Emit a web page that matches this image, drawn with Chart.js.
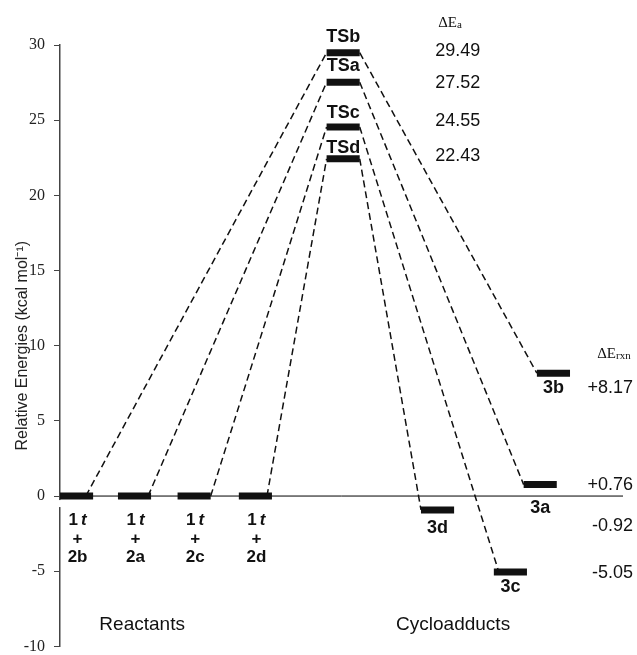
<!DOCTYPE html>
<html>
<head>
<meta charset="utf-8">
<script src="https://cdn.jsdelivr.net/npm/chart.js@4.4.1/dist/chart.umd.min.js"></script>
<style>
    html, body { margin: 0; padding: 0; background: #fff; overflow: hidden; }
    #wrap { width: 637px; height: 655px; overflow: hidden; }
</style>
</head>
<body>
<div id="wrap"><canvas id="energyChart" width="637" height="665"></canvas></div>
<script>
// ========================================
// DATA (kcal/mol)
// ========================================

// paths in the order b, a, c, d
const reactantNames = ['2b', '2a', '2c', '2d'];
const tsNames = ['TSb', 'TSa', 'TSc', 'TSd'];
const tsEnergies = [29.49, 27.52, 24.55, 22.43];
const productNames = ['3b', '3a', '3c', '3d'];
const productEnergies = [8.17, 0.76, -5.05, -0.92];
const reactantEnergy = 0;

// horizontal slots on the diagram (left edge of each level, x units)
const reactantSlots = [0, 1.75, 3.55, 5.4];
const tsSlot = 8.05;
const productSlots = [14.4, 14.0, 13.1, 10.9];
// where each dashed path leaves / reaches a level
const reactantLinks = [0.78, 2.66, 4.55, 6.25];
const productLinks = [14.4, 14.0, 13.25, 10.9];

const yTicks = [-10, -5, 0, 5, 10, 15, 20, 25, 30];

// ========================================
// STYLE
// ========================================
const SANS = '"Liberation Sans", Arial, sans-serif';
const SERIF = '"Liberation Serif", "Times New Roman", serif';
const LEVEL_W = 1;     // width of a level bar in x units
const X_MAX = 17;

// Build a two point line dataset
function segment(x1, y1, x2, y2, opts) {
    return Object.assign({
        data: [{ x: x1, y: y1 }, { x: x2, y: y2 }],
        borderColor: '#111',
        borderWidth: 1.5,
        pointRadius: 0,
        fill: false,
        tension: 0
    }, opts);
}

const datasets = [];
const levelStyle = { borderWidth: 7, borderCapStyle: 'butt' };
const pathStyle = { borderDash: [7, 4] };

// energy levels (drawn on top)
reactantSlots.forEach(s => {
    datasets.push(segment(s, reactantEnergy, s + LEVEL_W, reactantEnergy, levelStyle));
});
tsEnergies.forEach(e => {
    datasets.push(segment(tsSlot, e, tsSlot + LEVEL_W, e, levelStyle));
});
productEnergies.forEach((e, i) => {
    datasets.push(segment(productSlots[i], e, productSlots[i] + LEVEL_W, e, levelStyle));
});

// dashed reaction paths
tsEnergies.forEach((e, i) => {
    datasets.push(segment(reactantLinks[i], reactantEnergy, tsSlot, e, pathStyle));
    datasets.push(segment(tsSlot + LEVEL_W, e, productLinks[i], productEnergies[i], pathStyle));
});

// zero reference line
datasets.push(segment(0, 0, X_MAX, 0, { borderWidth: 1, borderColor: '#000' }));

// Draw ΔE header with a subscript
function drawDelta(ctx, sub, left, midY) {
    ctx.textAlign = 'left';
    ctx.textBaseline = 'middle';
    ctx.font = '15px ' + SERIF;
    ctx.fillText('\u0394E', left, midY);
    const w = ctx.measureText('\u0394E').width;
    ctx.font = '11px ' + SERIF;
    ctx.fillText(sub, left + w, midY + 2);
}

// Draw all the text annotations
const labelPlugin = {
    id: 'diagramLabels',
    afterDatasetsDraw(chart) {
        const ctx = chart.ctx;
        const x = chart.scales.x;
        const y = chart.scales.y;
        ctx.save();

        // small break in the axis just under the zero level
        const y0 = y.getPixelForValue(reactantEnergy);
        ctx.fillStyle = '#fff';
        ctx.fillRect(x.left - 3, y0 + 4, 6, 7);

        ctx.fillStyle = '#111';

        // TS labels above the bars
        const tsLift = [11, 11, 9, 6];
        ctx.font = 'bold 18px ' + SANS;
        ctx.textAlign = 'center';
        ctx.textBaseline = 'alphabetic';
        tsNames.forEach((name, i) => {
            ctx.fillText(name, x.getPixelForValue(tsSlot + LEVEL_W / 2), y.getPixelForValue(tsEnergies[i]) - tsLift[i]);
        });

        // activation energies
        const eaShift = [-2, 1, -6, -3];
        ctx.font = '18px ' + SANS;
        ctx.textAlign = 'left';
        ctx.textBaseline = 'middle';
        tsEnergies.forEach((e, i) => {
            ctx.fillText(e.toFixed(2), x.getPixelForValue(11.33), y.getPixelForValue(e) + eaShift[i]);
        });

        // product labels below the bars
        const prodDrop = [15, 23, 15, 18];
        ctx.font = 'bold 18px ' + SANS;
        ctx.textAlign = 'center';
        productNames.forEach((name, i) => {
            ctx.fillText(name, x.getPixelForValue(productSlots[i] + LEVEL_W / 2), y.getPixelForValue(productEnergies[i]) + prodDrop[i]);
        });

        // reaction energies
        const rxnShift = [15, 0, 1, 16];
        ctx.font = '18px ' + SANS;
        ctx.textAlign = 'right';
        productEnergies.forEach((e, i) => {
            const txt = (e > 0 ? '+' : '') + e.toFixed(2);
            ctx.fillText(txt, x.getPixelForValue(17.3), y.getPixelForValue(e) + rxnShift[i]);
        });

        // reactant labels: 1t + 2x
        reactantNames.forEach((name, i) => {
            const cx = x.getPixelForValue(reactantSlots[i] + LEVEL_W / 2) + 1;
            ctx.font = 'bold 17px ' + SANS;
            const w1 = ctx.measureText('1').width;
            ctx.font = 'italic bold 17px ' + SANS;
            const w2 = ctx.measureText('t').width;
            const start = cx - (w1 + 3 + w2) / 2;
            ctx.textAlign = 'left';
            ctx.font = 'bold 17px ' + SANS;
            ctx.fillText('1', start, y0 + 24);
            ctx.font = 'italic bold 17px ' + SANS;
            ctx.fillText('t', start + w1 + 3, y0 + 24);
            ctx.textAlign = 'center';
            ctx.font = 'bold 17px ' + SANS;
            ctx.fillText('+', cx, y0 + 43);
            ctx.fillText(name, cx, y0 + 61);
        });

        // section captions
        ctx.font = '19px ' + SANS;
        ctx.textAlign = 'center';
        ctx.fillText('Reactants', x.getPixelForValue(2.48), y.getPixelForValue(-8.53));
        ctx.fillText('Cycloadducts', x.getPixelForValue(11.87), y.getPixelForValue(-8.53));

        // column headers: ΔEa and ΔErxn
        drawDelta(ctx, 'a', x.getPixelForValue(11.42), y.getPixelForValue(31.45));
        drawDelta(ctx, 'rxn', x.getPixelForValue(16.22), y.getPixelForValue(9.43));

        ctx.restore();
    }
};

new Chart(document.getElementById('energyChart'), {
    type: 'line',
    data: { datasets: datasets },
    options: {
        responsive: false,
        animation: false,
        layout: { padding: { top: 45, right: 14, bottom: 16, left: 0 } },
        plugins: {
            legend: { display: false },
            tooltip: { enabled: false }
        },
        scales: {
            x: {
                type: 'linear',
                min: 0,
                max: X_MAX,
                display: false
            },
            y: {
                type: 'linear',
                min: yTicks[0],
                max: yTicks[yTicks.length - 1],
                afterFit(scale) { scale.width = 60; },
                afterBuildTicks(scale) { scale.ticks = yTicks.map(v => ({ value: v })); },
                border: { display: true, color: '#444', width: 1.5 },
                grid: { drawOnChartArea: false, drawTicks: true, tickLength: 6, color: '#444' },
                ticks: {
                    padding: 9,
                    color: '#222',
                    font: { family: SERIF, size: 16 }
                },
                title: {
                    display: true,
                    text: 'Relative Energies (kcal mol\u207B\u00B9)',
                    color: '#222',
                    font: { family: SANS, size: 16 },
                    padding: { top: 13, bottom: 0 }
                }
            }
        }
    },
    plugins: [labelPlugin]
});
</script>
</body>
</html>
